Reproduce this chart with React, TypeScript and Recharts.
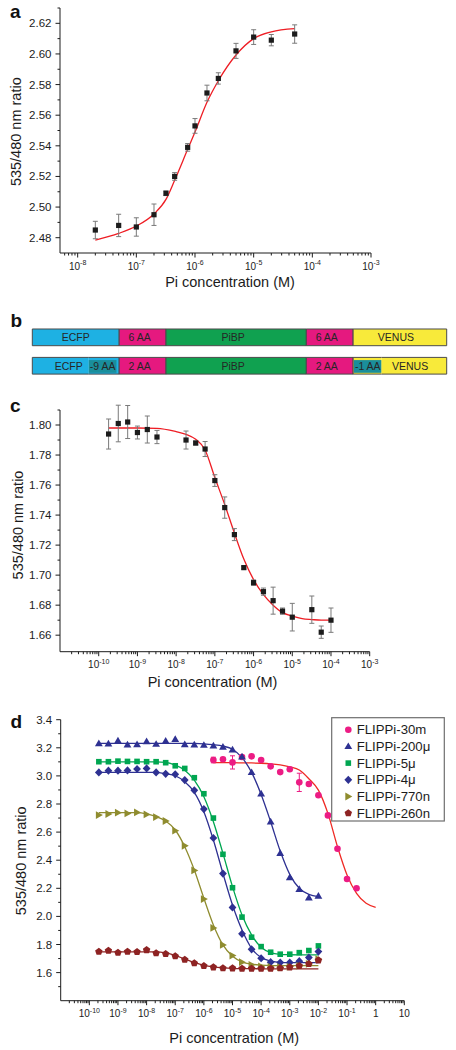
import React from 'react'
import { ComposedChart, Scatter, Line, XAxis, YAxis, ErrorBar, BarChart, Bar } from 'recharts'

// ---------- panel a: titration, rising sensor ----------
const aConc = [2e-8, 5e-8, 1e-7, 2e-7, 3.2e-7, 4.5e-7, 7.5e-7, 1e-6, 1.6e-6, 2.5e-6, 5e-6, 1e-5, 2e-5, 5e-5]
const aRatio = [2.485, 2.488, 2.487, 2.495, 2.509, 2.52, 2.539, 2.553, 2.5745, 2.584, 2.602, 2.611, 2.609, 2.613]
const aErr = [0.0057, 0.0073, 0.006, 0.007, 0.0015, 0.0025, 0.0025, 0.0048, 0.0051, 0.0037, 0.0049, 0.0048, 0.0037, 0.006]
const aFitConc = [2e-8, 5e-8, 1e-7, 2e-7, 3.2e-7, 4.5e-7, 7.5e-7, 1e-6, 1.6e-6, 2.5e-6, 5e-6, 1e-5, 2e-5, 5e-5]
const aFitRatio = [2.4784, 2.4828, 2.4876, 2.4955, 2.505, 2.5175, 2.5377, 2.549, 2.5684, 2.5825, 2.5993, 2.61, 2.6144, 2.6165]
const aXLabels = [1e-8, 1e-7, 1e-6, 1e-5, 1e-4, 1e-3]
const aYLabels = [2.48, 2.5, 2.52, 2.54, 2.56, 2.58, 2.6, 2.62]

// ---------- panel b: construct layout (schematic lengths) ----------
const bConstruct = ['FLIPPi', 'FLIPPi-short']
const bEcfp = [26, 16.9]
const bCutN = [0, 9.1]
const bLinker = [14, 14]
const bPibp = [42, 42]
const bCutC = [0, 8.5]
const bVenus = [28, 19.5]
const bLinkerLabel = ['6 AA', '2 AA']
const bCutNLabel = ['', '-9 AA']
const bCutCLabel = ['', '-1 AA']

// ---------- panel c: titration, falling sensor ----------
const cConc = [1.8e-10, 3.2e-10, 5.6e-10, 1e-9, 1.8e-9, 3.2e-9, 1.8e-8, 3.2e-8, 5.6e-8, 1e-7, 1.8e-7, 3.2e-7, 5.6e-7, 1e-6, 1.8e-6, 3.2e-6, 5.6e-6, 1e-5, 3.2e-5, 5.6e-5, 1e-4]
const cRatio = [1.794, 1.801, 1.802, 1.795, 1.797, 1.792, 1.79, 1.788, 1.784, 1.763, 1.745, 1.727, 1.705, 1.695, 1.689, 1.683, 1.676, 1.672, 1.677, 1.662, 1.67]
const cErr = [0.01, 0.0122, 0.011, 0.0043, 0.009, 0.0044, 0.006, 0.0013, 0.005, 0.0039, 0.0071, 0.004, 0.001, 0.0018, 0.0024, 0.009, 0.0021, 0.0092, 0.0091, 0.0041, 0.0081]
const cFitConc = [1.8e-10, 1e-9, 3.2e-9, 1e-8, 1.8e-8, 3.2e-8, 5.6e-8, 1e-7, 1.8e-7, 3.2e-7, 5.6e-7, 1e-6, 1.8e-6, 3.2e-6, 5.6e-6, 1e-5, 1.8e-5, 3.2e-5, 5.6e-5, 1e-4]
const cFitRatio = [1.798, 1.798, 1.7978, 1.7956, 1.7938, 1.7905, 1.7834, 1.765, 1.747, 1.728, 1.7107, 1.697, 1.687, 1.68, 1.675, 1.6727, 1.671, 1.6704, 1.67, 1.67]
const cXLabels = [1e-10, 1e-9, 1e-8, 1e-7, 1e-6, 1e-5, 1e-4, 1e-3]
const cYLabels = [1.66, 1.68, 1.7, 1.72, 1.74, 1.76, 1.78, 1.8]

// ---------- panel d: sensor family ----------
const dConc = [2.15e-10, 4.64e-10, 1e-9, 2.15e-9, 4.64e-9, 1e-8, 2.15e-8, 4.64e-8, 1e-7, 2.15e-7, 4.64e-7, 1e-6, 2.15e-6, 4.64e-6, 1e-5, 2.15e-5, 4.64e-5, 1e-4, 2.15e-4, 4.64e-4, 1e-3, 2.15e-3, 4.64e-3, 1e-2]
const d30mConc = [2.15e-6, 4.64e-6, 1e-5, 2.15e-5, 4.64e-5, 1e-4, 2.15e-4, 4.64e-4, 1e-3, 2.15e-3, 4.64e-3, 1e-2, 2.15e-2, 4.64e-2, 0.1, 0.215]
const d30mFitConc = [2.15e-6, 4.64e-6, 1e-5, 2.15e-5, 4.64e-5, 1e-4, 2.15e-4, 4.64e-4, 1e-3, 2.15e-3, 4.64e-3, 1e-2, 2.15e-2, 4.64e-2, 0.1, 0.215, 0.464, 1]

const d30m = [3.113, 3.118, 3.096, 3.134, 3.139, 3.113, 3.068, 3.027, 3.047, 2.954, 2.942, 2.862, 2.719, 2.482, 2.266, 2.2]
const d200u = [3.231, 3.229, 3.25, 3.222, 3.224, 3.245, 3.226, 3.248, 3.26, 3.224, 3.222, 3.219, 3.215, 3.205, 3.186, 3.136, 3.025, 2.873, 2.674, 2.449, 2.276, 2.193, 2.133, 2.145]
const d5u = [3.101, 3.101, 3.105, 3.103, 3.103, 3.101, 3.101, 3.094, 3.072, 3.053, 2.987, 2.873, 2.7, 2.442, 2.204, 1.995, 1.852, 1.785, 1.745, 1.731, 1.731, 1.742, 1.757, 1.79]
const d4u = [3.025, 3.037, 3.037, 3.039, 3.049, 3.053, 3.025, 3.015, 3.011, 2.97, 2.897, 2.764, 2.558, 2.305, 2.064, 1.876, 1.766, 1.702, 1.674, 1.671, 1.672, 1.681, 1.707, 1.75]
const d770n = [2.721, 2.729, 2.738, 2.733, 2.74, 2.726, 2.707, 2.679, 2.61, 2.503, 2.327, 2.123, 1.918, 1.797, 1.721, 1.674, 1.655, 1.645, 1.64, 1.638, 1.641, 1.648, 1.662, 1.695]
const d260n = [1.749, 1.756, 1.742, 1.749, 1.747, 1.761, 1.738, 1.733, 1.717, 1.692, 1.667, 1.648, 1.638, 1.632, 1.631, 1.629, 1.629, 1.629, 1.629, 1.632, 1.638, 1.648, 1.662, 1.688]

const d30mErrConc = [2.15e-6, 1e-5, 2.15e-3]
const d30mErrRatio = [3.113, 3.096, 2.954]
const d30mErr = [0.02, 0.047, 0.065]

const d30mFit = [3.094, 3.094, 3.094, 3.093, 3.092, 3.09, 3.086, 3.078, 3.064, 3.042, 2.98, 2.899, 2.733, 2.496, 2.295, 2.164, 2.093, 2.065]
const d200uFit = [3.231, 3.231, 3.231, 3.231, 3.231, 3.231, 3.231, 3.231, 3.231, 3.231, 3.231, 3.228, 3.222, 3.212, 3.19, 3.13, 3.025, 2.868, 2.674, 2.465, 2.299, 2.2, 2.157, 2.14]
const d5uFit = [3.1, 3.1, 3.1, 3.1, 3.1, 3.1, 3.1, 3.096, 3.077, 3.041, 2.97, 2.852, 2.674, 2.449, 2.212, 2.01, 1.868, 1.78, 1.742, 1.73, 1.727, 1.726, 1.726, 1.726]
const d4uFit = [3.025, 3.025, 3.025, 3.025, 3.025, 3.025, 3.025, 3.015, 3.001, 2.958, 2.883, 2.745, 2.544, 2.306, 2.081, 1.903, 1.773, 1.707, 1.683, 1.673, 1.671, 1.671, 1.671, 1.671]
const d770nFit = [2.738, 2.738, 2.738, 2.738, 2.738, 2.729, 2.71, 2.679, 2.615, 2.496, 2.33, 2.129, 1.939, 1.797, 1.716, 1.677, 1.66, 1.653, 1.65, 1.65, 1.65, 1.65, 1.65, 1.65]
const d260nFit = [1.748, 1.748, 1.748, 1.748, 1.748, 1.748, 1.748, 1.74, 1.722, 1.697, 1.672, 1.652, 1.64, 1.633, 1.629, 1.628, 1.628, 1.627, 1.627, 1.627, 1.627, 1.627, 1.627, 1.627]

const dNames = ['FLIPPi-30m', 'FLIPPi-200μ', 'FLIPPi-5μ', 'FLIPPi-4μ', 'FLIPPi-770n', 'FLIPPi-260n']
const dXLabels = [1e-10, 1e-9, 1e-8, 1e-7, 1e-6, 1e-5, 1e-4, 1e-3, 1e-2, 1e-1, 1, 10]
const dYLabels = [1.6, 1.8, 2.0, 2.2, 2.4, 2.6, 2.8, 3.0, 3.2, 3.4]

// ---------- styling ----------
const FONT = '"Liberation Sans", Arial, Helvetica, sans-serif'
const INK = '#1c1c1c'
const FIT_RED = '#ee1d24'
const ERR_GREY = '#7a7a7a'

const D_STYLE = [
  { marker: 'circle', color: '#ec1c84', line: '#ef2a24' },
  { marker: 'up', color: '#2e3192', line: '#2e3192' },
  { marker: 'square', color: '#00a651', line: '#00a651' },
  { marker: 'diamond', color: '#2e3192', line: '#2e3192' },
  { marker: 'right', color: '#8f8c2f', line: '#8f8c2f' },
  { marker: 'pentagon', color: '#8e2323', line: '#8e2323' },
]

const B_COLORS = { ecfp: '#1eb1e3', linker: '#e5197f', pibp: '#10a150', venus: '#f8ea3a', cut: '#1a8e9b' }

const zip = (xs: number[], ys: number[]) => xs.map((x, i) => ({ x, y: ys[i] }))
const zipErr = (xs: number[], ys: number[], es: number[]) => xs.map((x, i) => ({ x, y: ys[i], err: es[i] }))

function logTicks(majors: number[], lo: number, hi: number) {
  const out = majors.filter((v) => v >= lo && v <= hi)
  for (let d = Math.floor(Math.log10(lo)); d < Math.ceil(Math.log10(hi)); d++) {
    for (let k = 2; k <= 9; k++) {
      const v = k * Math.pow(10, d)
      if (v > lo && v < hi) out.push(v)
    }
  }
  return out.sort((p, q) => p - q)
}

function linTicks(labels: number[], step: number, lo: number, hi: number) {
  const minors = labels.map((v) => +(v + step).toFixed(4)).filter((v) => v >= lo && v <= hi)
  return [...labels, ...minors].sort((p, q) => p - q)
}

const isPow10 = (v: number) => Math.abs(Math.log10(v) - Math.round(Math.log10(v))) < 1e-6

function LogTick(props: any) {
  const { x, y, payload } = props
  const v = payload.value as number
  const major = isPow10(v)
  const e = Math.round(Math.log10(v))
  return (
    <g>
      <line x1={x} x2={x} y1={y} y2={y + (major ? 4.5 : 2.5)} stroke={INK} strokeWidth={1} />
      {major && (
        <text x={x} y={y + 16.5} textAnchor="middle" fontSize={10} fill={INK} fontFamily={FONT}>
          {e >= 0 ? (
            String(Math.pow(10, e))
          ) : (
            <>
              10
              <tspan dy={-4.5} fontSize={7}>
                {e}
              </tspan>
            </>
          )}
        </text>
      )}
    </g>
  )
}

function makeYTick(labels: number[], digits: number) {
  return (props: any) => {
    const { x, y, payload } = props
    const major = labels.some((m) => Math.abs(m - payload.value) < 1e-6)
    return (
      <g>
        <line x1={x} x2={x - (major ? 4.5 : 2.5)} y1={y} y2={y} stroke={INK} strokeWidth={1} />
        {major && (
          <text x={x - 8.5} y={y + 4} textAnchor="end" fontSize={11.5} fill={INK} fontFamily={FONT}>
            {payload.value.toFixed(digits)}
          </text>
        )}
      </g>
    )
  }
}

function marker(kind: string, cx: number, cy: number, fill: string) {
  switch (kind) {
    case 'circle':
      return <circle cx={cx} cy={cy} r={3.3} fill={fill} />
    case 'up':
      return <polygon points={`${cx},${cy - 4} ${cx + 3.9},${cy + 2.7} ${cx - 3.9},${cy + 2.7}`} fill={fill} />
    case 'square':
      return <rect x={cx - 2.8} y={cy - 2.8} width={5.6} height={5.6} fill={fill} />
    case 'diamond':
      return <polygon points={`${cx},${cy - 4.1} ${cx + 3.9},${cy} ${cx},${cy + 4.1} ${cx - 3.9},${cy}`} fill={fill} />
    case 'right':
      return <polygon points={`${cx - 3},${cy - 3.9} ${cx + 4},${cy} ${cx - 3},${cy + 3.9}`} fill={fill} />
    default: {
      const pts = [-90, -18, 54, 126, 198]
        .map((a) => `${cx + 3.9 * Math.cos((a * Math.PI) / 180)},${cy + 3.9 * Math.sin((a * Math.PI) / 180)}`)
        .join(' ')
      return <polygon points={pts} fill={fill} />
    }
  }
}

const squareDot = (p: any) => <rect x={p.cx - 2.6} y={p.cy - 2.6} width={5.2} height={5.2} fill={INK} />
const noDot = () => <g />

const axisStroke = { stroke: INK, strokeWidth: 1 }

function PanelA() {
  const pts = zipErr(aConc, aRatio, aErr)
  const fit = zip(aFitConc, aFitRatio)
  const xTicks = logTicks(aXLabels, 5e-9, 1e-3)
  const yTicks = linTicks(aYLabels, 0.01, 2.47, 2.63)
  return (
    <ComposedChart width={456} height={290} margin={{ top: 8, right: 85, bottom: 0, left: 8 }}>
      <XAxis type="number" dataKey="x" scale="log" domain={[5e-9, 1e-3]} allowDataOverflow ticks={xTicks} interval={0}
        tickLine={false} tickSize={0} tickMargin={0} height={37} axisLine={axisStroke} tick={(p: any) => <LogTick {...p} />} />
      <YAxis type="number" dataKey="y" domain={[2.47, 2.63]} allowDataOverflow ticks={yTicks} interval={0}
        tickLine={false} tickSize={0} tickMargin={0} width={52} axisLine={axisStroke} tick={makeYTick(aYLabels, 2)} />
      <Line data={fit} dataKey="y" type="monotone" stroke={FIT_RED} strokeWidth={1.3} dot={false} isAnimationActive={false} />
      <Scatter data={pts} shape={squareDot} isAnimationActive={false}>
        <ErrorBar dataKey="err" direction="y" width={2.5} stroke={ERR_GREY} strokeWidth={1} />
      </Scatter>
    </ComposedChart>
  )
}

function edgePath(x: number, y: number, w: number, h: number, left: boolean, right: boolean) {
  let d = `M${x},${y}H${x + w}M${x},${y + h}H${x + w}`
  if (left) d += `M${x},${y}V${y + h}`
  if (right) d += `M${x + w},${y}V${y + h}`
  return d
}

function segLabel(x: number, y: number, h: number, text: string, anchor: 'middle' | 'end' = 'middle') {
  return (
    <text x={x} y={y + h / 2 + 3.8} textAnchor={anchor} fontSize={10.5} fill="#262626" fontFamily={FONT}>
      {text}
    </text>
  )
}

function makeSegShape(key: string) {
  return (p: any) => {
    const { x, y, width: w, height: h, payload } = p
    if (!w || w <= 0) return <g />
    const edge = '#4a4a4a'
    if (key === 'ecfp') {
      const cut = payload.cutN > 0
      return (
        <g>
          <rect x={x} y={y} width={w} height={h} fill={B_COLORS.ecfp} />
          <path d={edgePath(x, y, w, h, true, !cut)} stroke={edge} fill="none" />
          {cut ? segLabel(x + w - 6, y, h, 'ECFP', 'end') : segLabel(x + w / 2, y, h, 'ECFP')}
        </g>
      )
    }
    if (key === 'cutN') {
      return (
        <g>
          <rect x={x} y={y} width={w} height={h} fill={B_COLORS.ecfp} />
          <rect x={x} y={y + 2.7} width={w - 2.7} height={h - 4} fill={B_COLORS.cut} />
          <path d={edgePath(x, y, w, h, false, true)} stroke={edge} fill="none" />
          {segLabel(x + (w - 2.7) / 2, y, h, payload.cutNLabel)}
        </g>
      )
    }
    if (key === 'cutC') {
      return (
        <g>
          <rect x={x} y={y} width={w} height={h} fill={B_COLORS.venus} />
          <rect x={x + 0.7} y={y + 2.7} width={w - 0.7} height={h - 4} fill={B_COLORS.cut} />
          <path d={edgePath(x, y, w, h, true, false)} stroke={edge} fill="none" />
          {segLabel(x + w / 2 + 0.4, y, h, payload.cutCLabel)}
        </g>
      )
    }
    if (key === 'venus') {
      const cut = payload.cutC > 0
      return (
        <g>
          <rect x={x} y={y} width={w} height={h} fill={B_COLORS.venus} />
          <path d={edgePath(x, y, w, h, !cut, true)} stroke={edge} fill="none" />
          {segLabel(x + w / 2 - 4, y, h, 'VENUS')}
        </g>
      )
    }
    const fill = key === 'pibp' ? B_COLORS.pibp : B_COLORS.linker
    const text = key === 'pibp' ? 'PiBP' : payload.linkerLabel
    return (
      <g>
        <rect x={x} y={y} width={w} height={h} fill={fill} />
        <path d={edgePath(x, y, w, h, true, true)} stroke={edge} fill="none" />
        {segLabel(x + w / 2 - 3, y, h, text)}
      </g>
    )
  }
}

const B_KEYS = ['ecfp', 'cutN', 'linkN', 'pibp', 'linkC', 'cutC', 'venus']

function PanelB() {
  const rows = bConstruct.map((name, i) => ({
    name,
    ecfp: bEcfp[i],
    cutN: bCutN[i],
    linkN: bLinker[i],
    pibp: bPibp[i],
    linkC: bLinker[i],
    cutC: bCutC[i],
    venus: bVenus[i],
    linkerLabel: bLinkerLabel[i],
    cutNLabel: bCutNLabel[i],
    cutCLabel: bCutCLabel[i],
  }))
  return (
    <BarChart layout="vertical" width={456} height={56.8} data={rows} barSize={16.7} barCategoryGap={0}
      margin={{ top: 0, right: 9.3, bottom: 0, left: 32.3 }}>
      <XAxis type="number" hide domain={[0, 124]} />
      <YAxis type="category" dataKey="name" hide />
      {B_KEYS.map((k) => (
        <Bar key={k} dataKey={k} stackId="construct" shape={makeSegShape(k)} isAnimationActive={false} />
      ))}
    </BarChart>
  )
}

function PanelC() {
  const pts = zipErr(cConc, cRatio, cErr)
  const fit = zip(cFitConc, cFitRatio)
  const xTicks = logTicks(cXLabels, 1e-11, 1e-3)
  const yTicks = linTicks(cYLabels, 0.01, 1.649, 1.81)
  return (
    <ComposedChart width={456} height={290} margin={{ top: 10, right: 86.3, bottom: 0, left: 8 }}>
      <XAxis type="number" dataKey="x" scale="log" domain={[1e-11, 1e-3]} allowDataOverflow ticks={xTicks} interval={0}
        tickLine={false} tickSize={0} tickMargin={0} height={38.3} axisLine={axisStroke} tick={(p: any) => <LogTick {...p} />} />
      <YAxis type="number" dataKey="y" domain={[1.649, 1.81]} allowDataOverflow ticks={yTicks} interval={0}
        tickLine={false} tickSize={0} tickMargin={0} width={52} axisLine={axisStroke} tick={makeYTick(cYLabels, 2)} />
      <Line data={fit} dataKey="y" type="monotone" stroke={FIT_RED} strokeWidth={1.3} dot={false} isAnimationActive={false} />
      <Scatter data={pts} shape={squareDot} isAnimationActive={false}>
        <ErrorBar dataKey="err" direction="y" width={2.5} stroke={ERR_GREY} strokeWidth={1} />
      </Scatter>
    </ComposedChart>
  )
}

function PanelD() {
  const series = [
    zip(d30mConc, d30m),
    zip(dConc, d200u),
    zip(dConc, d5u),
    zip(dConc, d4u),
    zip(dConc, d770n),
    zip(dConc, d260n),
  ]
  const fits = [
    zip(d30mFitConc, d30mFit),
    zip(dConc, d200uFit),
    zip(dConc, d5uFit),
    zip(dConc, d4uFit),
    zip(dConc, d770nFit),
    zip(dConc, d260nFit),
  ]
  const errPts = zipErr(d30mErrConc, d30mErrRatio, d30mErr)
  const xTicks = logTicks(dXLabels, 1e-11, 10)
  const yTicks = linTicks(dYLabels, -0.1, 1.4, 3.4)
  return (
    <ComposedChart width={456} height={330} margin={{ top: 7.7, right: 51.7, bottom: 0, left: 8.7 }}>
      <XAxis type="number" dataKey="x" scale="log" domain={[1e-11, 10]} allowDataOverflow ticks={xTicks} interval={0}
        tickLine={false} tickSize={0} tickMargin={0} height={41.3} axisLine={axisStroke} tick={(p: any) => <LogTick {...p} />} />
      <YAxis type="number" dataKey="y" domain={[1.4, 3.4]} allowDataOverflow ticks={yTicks} interval={0}
        tickLine={false} tickSize={0} tickMargin={0} width={52} axisLine={axisStroke} tick={makeYTick(dYLabels, 1)} />
      <Scatter data={errPts} shape={noDot} isAnimationActive={false}>
        <ErrorBar dataKey="err" direction="y" width={2.5} stroke={D_STYLE[0].color} strokeWidth={1} />
      </Scatter>
      {fits.map((f, i) => (
        <Line key={`fit-${i}`} data={f} dataKey="y" type="monotone" stroke={D_STYLE[i].line} strokeWidth={1.3}
          dot={false} isAnimationActive={false} />
      ))}
      {series.map((s, i) => (
        <Scatter key={`pts-${i}`} data={s} isAnimationActive={false}
          shape={(p: any) => marker(D_STYLE[i].marker, p.cx, p.cy, D_STYLE[i].color)} />
      ))}
    </ComposedChart>
  )
}

function Overlay() {
  const title = { fontFamily: FONT, fontSize: 14.5, fill: INK }
  const letter = { fontFamily: FONT, fontSize: 19, fontWeight: 700, fill: '#111' }
  return (
    <svg width={456} height={1050} style={{ position: 'absolute', left: 0, top: 0, pointerEvents: 'none' }}>
      <text x={10} y={17.5} {...letter}>a</text>
      <text x={10.5} y={327.3} {...letter}>b</text>
      <text x={10} y={411.5} {...letter}>c</text>
      <text x={10.5} y={728} {...letter}>d</text>

      <text transform="translate(21,131.7) rotate(-90)" textAnchor="middle" {...title}>535/480 nm ratio</text>
      <text x={230} y={287} textAnchor="middle" {...title}>Pi concentration (M)</text>

      <text transform="translate(22.5,525) rotate(-90)" textAnchor="middle" {...title}>535/480 nm ratio</text>
      <text x={212.5} y={687.3} textAnchor="middle" {...title}>Pi concentration (M)</text>

      <text transform="translate(26,860.8) rotate(-90)" textAnchor="middle" {...title}>535/480 nm ratio</text>
      <text x={234.2} y={1043} textAnchor="middle" {...title}>Pi concentration (M)</text>

      <rect x={331.7} y={717.7} width={112.6} height={103.3} fill="#fff" stroke="#6e6e6e" strokeWidth={1.2} />
      {dNames.map((name, i) => {
        const cy = 729.7 + 16.7 * i
        return (
          <g key={name}>
            {marker(D_STYLE[i].marker, 348.3, cy, D_STYLE[i].color)}
            <text x={356.7} y={cy + 4.6} fontFamily={FONT} fontSize={13.2} fill={INK}>{name}</text>
          </g>
        )
      })}
    </svg>
  )
}

export default function App() {
  return (
    <div style={{ position: 'absolute', left: 0, top: 0, width: 456, height: 1050, background: '#fff', fontFamily: FONT }}>
      <div style={{ position: 'absolute', left: 0, top: 0 }}>
        <PanelA />
      </div>
      <div style={{ position: 'absolute', left: 0, top: 323.1 }}>
        <PanelB />
      </div>
      <div style={{ position: 'absolute', left: 0, top: 400 }}>
        <PanelC />
      </div>
      <div style={{ position: 'absolute', left: 0, top: 712 }}>
        <PanelD />
      </div>
      <Overlay />
    </div>
  )
}
